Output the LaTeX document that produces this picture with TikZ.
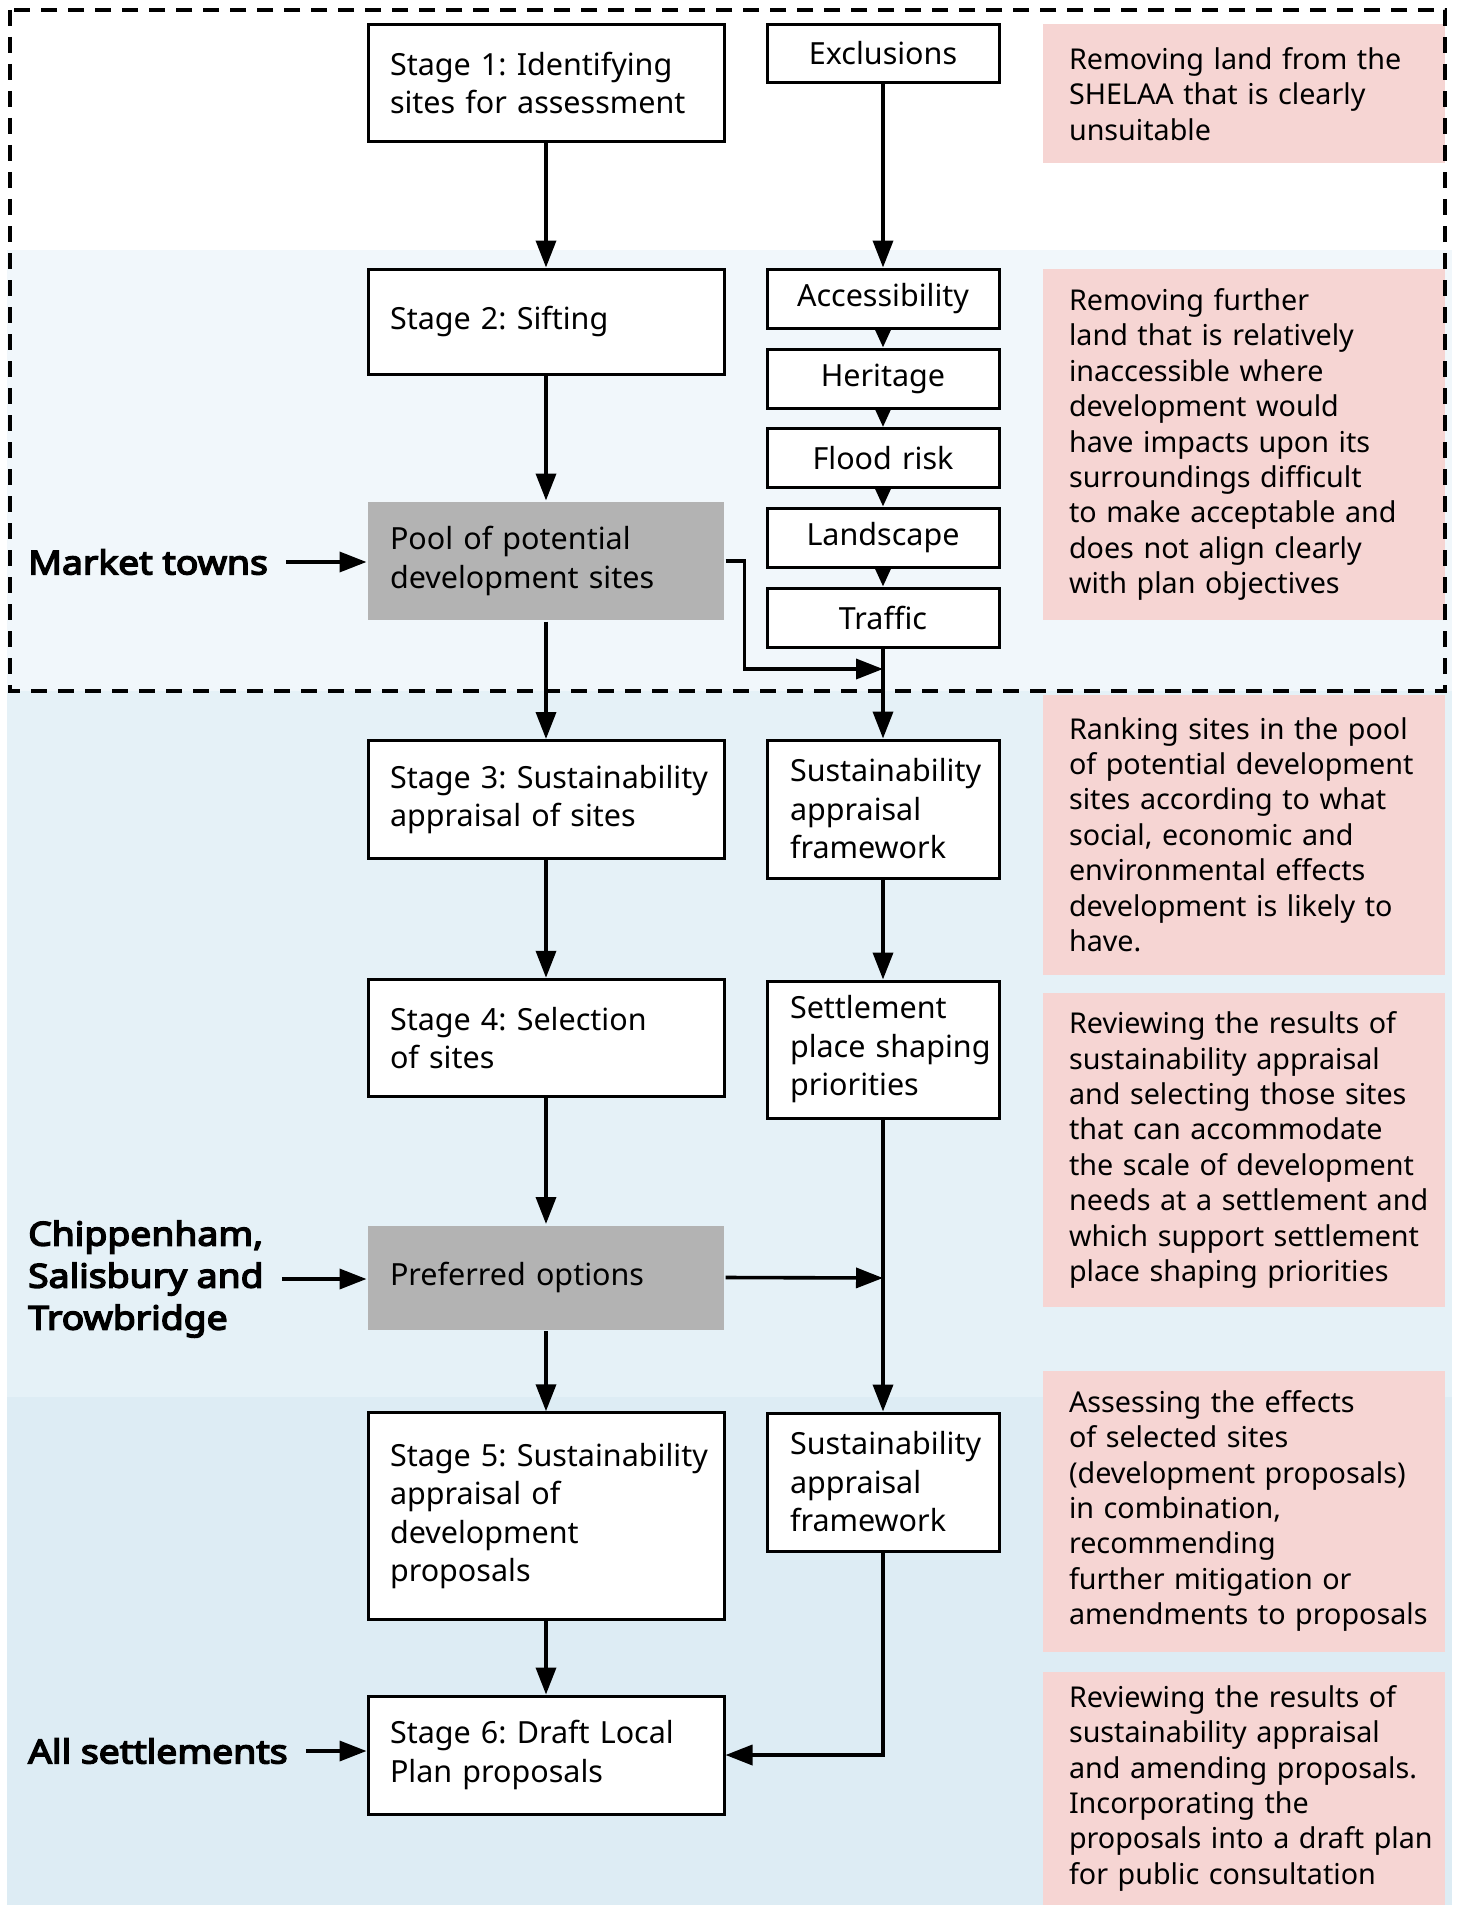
\documentclass[tikz,border=0pt]{standalone}
\usepackage{fontspec}
\setmainfont{Noto Sans}[AutoFakeBold=3]
\newfontfamily\sidebold{Noto Sans}[FakeBold=4.5, FakeStretch=1.13]
\usepackage{xcolor}
\usepackage{tikz}
\usetikzlibrary{arrows.meta}
\frenchspacing

\definecolor{bandA}{HTML}{F1F7FB}
\definecolor{bandB}{HTML}{E5F1F7}
\definecolor{bandC}{HTML}{DDECF4}
\definecolor{notepink}{HTML}{F6D5D3}
\definecolor{poolgrey}{HTML}{B3B3B3}

\newcommand\boxfont{\fontsize{30.5pt}{38.5pt}\selectfont\hyphenpenalty=10000\exhyphenpenalty=10000}
\newcommand\notefont{\fontsize{28.7pt}{35.4pt}\selectfont\hyphenpenalty=10000\exhyphenpenalty=10000}
\newcommand\sidefont{\sidebold\fontsize{33pt}{42pt}\selectfont}

\begin{document}
\begin{tikzpicture}[x=1pt, y=-1pt,
    stage/.style={draw=black, line width=3pt, fill=white, minimum width=356pt,
        text width=312pt, inner xsep=22pt, inner ysep=0pt, align=left, font=\boxfont},
    check/.style={draw=black, line width=3pt, fill=white, minimum width=232pt,
        text width=186pt, inner xsep=23pt, inner ysep=0pt, align=left, font=\boxfont},
    note/.style={fill=notepink, minimum width=402pt, text width=350pt,
        inner xsep=26pt, inner ysep=0pt, align=left, font=\notefont},
    side/.style={anchor=west, inner xsep=18pt, align=left, font=\sidefont},
    arr/.style={line width=3.6pt, -{Triangle[length=27pt, width=20pt]}},
    sarr/.style={line width=3.6pt, -{Triangle[length=20pt, width=17pt]}}]
\useasboundingbox (0,0) rectangle (1457,1905);

% background bands
\fill[bandA] (7,250) rectangle (1452,691);
\fill[bandB] (7,691) rectangle (1452,1397);
\fill[bandC] (7,1397) rectangle (1452,1905);

% left column
\node[stage, minimum height=117.5pt] (s1) at (546,83) {Stage~1:~Identifying\\sites~for~assessment};
\node[stage, minimum height=105pt] (s2) at (546,321.5) {Stage 2: Sifting};
\node[stage, fill=poolgrey, draw=none, minimum height=118pt] (pool) at (546,561) {Pool of potential\\development sites};
\node[stage, minimum height=118pt] (s3) at (546,799.5) {Stage~3:~Sustainability\\appraisal of sites};
\node[stage, minimum height=117.5pt] (s4) at (546,1038) {Stage 4: Selection\\of sites};
\node[stage, fill=poolgrey, draw=none, minimum height=104pt] (pref) at (546,1277.5) {Preferred options};
\node[stage, minimum height=206.5pt] (s5) at (546,1516) {Stage~5:~Sustainability\\appraisal of\\development\\proposals};
\node[stage, minimum height=118pt] (s6) at (546,1755) {Stage 6: Draft Local\\Plan proposals};

% middle column
\node[check, align=center, text width=200pt, inner xsep=16pt, minimum height=58pt] (excl) at (883,53.5) {Exclusions};
\node[check, align=center, text width=200pt, inner xsep=16pt, minimum height=59pt] (acc) at (883,298.5) {Accessibility};
\node[check, align=center, text width=200pt, inner xsep=16pt, minimum height=59pt] (her) at (883,378.5) {Heritage};
\node[check, align=center, text width=200pt, inner xsep=16pt, minimum height=59pt] (flood) at (883,458) {Flood risk};
\node[check, align=center, text width=200pt, inner xsep=16pt, minimum height=59pt] (land) at (883,537.5) {Landscape};
\node[check, align=center, text width=200pt, inner xsep=16pt, minimum height=59pt] (traf) at (883,617.5) {Traffic};
\node[check, minimum height=138pt] (sa1) at (883,809) {Sustainability\\appraisal\\framework};
\node[check, minimum height=137pt] (set) at (883,1049.5) {Settlement\\place~shaping\\priorities};
\node[check, minimum height=138pt] (sa2) at (883,1482) {Sustainability\\appraisal\\framework};

% notes
\node[note, minimum height=139pt] (n1) at (1244,94) {Removing land from the\\SHELAA that is clearly\\unsuitable};
\node[note, minimum height=351pt] (n2) at (1244,444.5) {Removing further\\land that is relatively\\inaccessible where\\development would\\have impacts upon its\\surroundings difficult\\to~make~acceptable~and\\does not align clearly\\with plan objectives};
\node[note, minimum height=280pt] (n3) at (1244,834.5) {Ranking~sites~in~the~pool\\of~potential~development\\sites~according~to~what\\social, economic and\\environmental effects\\development~is~likely~to\\have.};
\node[note, minimum height=314pt] (n4) at (1244,1150) {Reviewing~the~results~of\\sustainability~appraisal\\and~selecting~those~sites\\that~can~accommodate\\the~scale~of~development\\needs~at~a~settlement~and\\which~support~settlement\\place~shaping~priorities};
\node[note, minimum height=281pt] (n5) at (1244,1511) {Assessing the effects\\of selected sites\\(development~proposals)\\in combination,\\recommending\\further mitigation or\\amendments~to~proposals};
\node[note, minimum height=233.5pt] (n6) at (1244,1788.25) {Reviewing~the~results~of\\sustainability~appraisal\\and~amending~proposals.\\Incorporating the\\proposals~into~a~draft~plan\\for~public~consultation};

% side labels
\node[side] (mt) at (10,562) {Market towns};
\node[side] (cst) at (10,1279) {Chippenham,\\Salisbury and\\Trowbridge};
\node[side] (alls) at (10,1751) {All settlements};

\coordinate (j1) at (883,669);
\coordinate (j2) at (883,1278);

% connectors
\draw[arr] (s1) -- (s2);
\draw[arr] (s2) -- (pool);
\draw[arr] (pool) -- (s3);
\draw[arr] (s3) -- (s4);
\draw[arr] (s4) -- (pref);
\draw[arr] (pref) -- (s5);
\draw[arr] (s5) -- (s6);
\draw[arr] (excl) -- (acc);
\draw[sarr] (acc) -- (her);
\draw[sarr] (her) -- (flood);
\draw[sarr] (flood) -- (land);
\draw[sarr] (land) -- (traf);
\draw[arr] (traf) -- (sa1);
\draw[arr] (sa1) -- (set);
\draw[arr] (set) -- (sa2);
\draw[arr] (pool.east) -- ++(19,0) |- (j1);
\draw[arr] (pref.east) -- (j2);
\draw[arr] (sa2.south) |- (s6.east);
\draw[arr] (mt.east) -- (mt.east -| pool.west);
\draw[arr] (cst.east) -- (cst.east -| pref.west);
\draw[arr] (alls.east) -- (alls.east -| s6.west);

% dashed frame
\draw[line width=4pt, dash pattern=on 16pt off 11pt] (10,10) rectangle (1445,691);
\end{tikzpicture}
\end{document}
